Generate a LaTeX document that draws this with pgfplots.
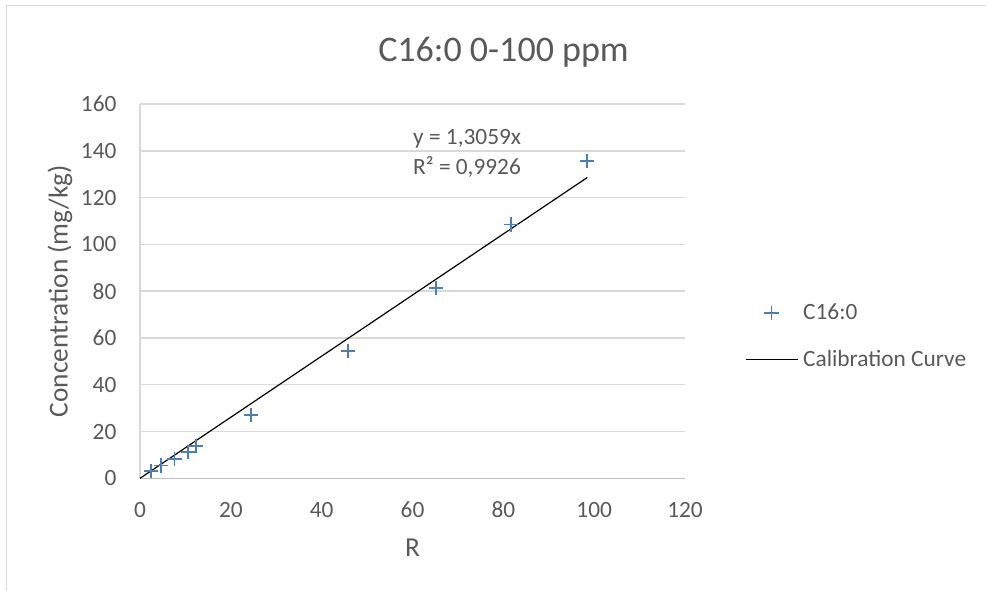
\documentclass[border=0pt]{standalone}
\usepackage{pgfplots}
\pgfplotsset{compat=1.18}
\usepackage{fontspec}
\setmainfont{Carlito}
\definecolor{txt}{HTML}{595959}
\definecolor{gridc}{HTML}{D9D9D9}
\definecolor{axisc}{HTML}{BFBFBF}
\definecolor{ser}{HTML}{4A7EBB}
\pgfplotsset{
  scatleg/.code={\pgfplotsset{legend image code/.code={\path[draw=none] (0bp,0bp) -- (39bp,0bp); \draw[##1, only marks] plot coordinates {(19.5bp,0bp)};}}},
  lineleg/.code={\pgfplotsset{legend image code/.code={\draw[##1] (0bp,0bp) -- (39bp,0bp);}}},
}
\begin{document}
\begin{tikzpicture}
\path[use as bounding box] (0,0) rectangle (739.5bp,443.25bp);
\draw[gridc, line width=1.1bp] (4.9bp,0) -- (4.9bp,439.1bp) -- (739.5bp,439.1bp);
\node[anchor=base, text=txt, font=\fontsize{27bp}{32bp}\selectfont] at (377.6bp,397bp) {C16:0 0-100 ppm};
\begin{axis}[
  at={(105bp,84.5bp)}, anchor=south west,
  scale only axis, width=408.75bp, height=280.7bp,
  xmin=0, xmax=120, ymin=0, ymax=160,
  xtick={0,20,...,120}, ytick={0,20,...,160},
  axis x line=bottom, axis y line=left,
  axis line style={-},
  x axis line style={draw=axisc, line width=1.1bp},
  y axis line style={draw=gridc, line width=1.1bp},
  major tick length=0pt,
  xmajorgrids=false, ymajorgrids=true,
  major grid style={draw=gridc, line width=1.1bp},
  /pgf/number format/assume math mode=true,
  tick label style={text=txt, font=\fontsize{17.5bp}{21bp}\selectfont, inner sep=0pt},
  xticklabel style={anchor=base, yshift=-29.25bp},
  yticklabel style={anchor=east, xshift=-17.5bp},
  xlabel={R}, ylabel={Concentration (mg/kg)},
  label style={text=txt, font=\fontsize{20.5bp}{24bp}\selectfont, inner sep=0pt},
  xlabel style={at={(axis description cs:0.5,-0.2095)}, anchor=base},
  ylabel style={at={(axis description cs:-0.1468,0.5)}, anchor=center},
  legend cell align=left,
  legend style={draw=none, fill=none, inner sep=0pt, outer sep=0pt,
    at={(1.110,0.379)}, anchor=west, row sep=21.5bp, column sep=3.75bp,
    font=\fontsize{17.5bp}{21bp}\selectfont, text=txt,
    nodes={inner sep=0pt}},
  clip=false,
]
\addplot[only marks, mark=+, mark size=5.3bp, ser, line width=1.35bp, scatleg]
  coordinates {
  (2.4,3.0) (4.7,5.5) (7.6,8.4) (10.6,11.2) (12.3,13.8)
  (24.5,27.0) (45.8,54.5) (65.2,81.5) (81.7,108.5) (98.5,135.7)
};
\addlegendentry{C16:0}
\addplot[black, line width=0.9bp, no marks, lineleg]
  coordinates {(0,0) (98.5,128.63)};
\addlegendentry{Calibration Curve}
\node[anchor=base west, text=txt, font=\fontsize{17.5bp}{21bp}\selectfont, inner sep=0pt] at (axis cs:60.1,142.6) {y = 1,3059x};
\node[anchor=base west, text=txt, font=\fontsize{17.5bp}{21bp}\selectfont, inner sep=0pt] at (axis cs:60.1,129.8) {R² = 0,9926};
\end{axis}
\end{tikzpicture}
\end{document}
